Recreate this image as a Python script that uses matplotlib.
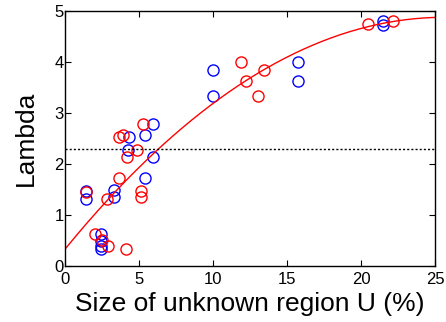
import numpy as np
import matplotlib
matplotlib.use("Agg")
import matplotlib.pyplot as plt

plt.rcParams['font.family'] = ['Liberation Sans', 'DejaVu Sans']

blue_x = [1.40, 1.40, 2.42, 2.42, 2.42, 2.42, 3.33, 3.33, 4.30, 4.23, 5.41, 5.93, 5.93, 5.41,
          9.98, 9.98, 15.73, 15.73, 21.49, 21.49]
blue_y = [1.47, 1.32, 0.63, 0.49, 0.40, 0.33, 1.49, 1.35, 2.52, 2.27, 2.56, 2.79, 2.13, 1.72,
          3.85, 3.33, 4.00, 3.62, 4.81, 4.73]

red_x = [1.40, 2.04, 2.47, 2.92, 4.12, 2.85, 3.64, 3.64, 3.94, 4.16, 4.84, 5.27, 5.14, 5.14,
         11.91, 12.25, 13.42, 13.06, 20.46, 22.14]
red_y = [1.45, 0.63, 0.51, 0.39, 0.33, 1.32, 1.72, 2.52, 2.56, 2.13, 2.27, 2.79, 1.48, 1.36,
         4.00, 3.62, 3.85, 3.33, 4.74, 4.81]

fit_coef = [-0.00693, 0.355, 0.33]   # quadratic fit curve
threshold = 2.29

xticks = [0, 5, 10, 15, 20, 25]
yticks = [0, 1, 2, 3, 4, 5]

fig = plt.figure(figsize=(4.46, 3.22), dpi=100)
ax = fig.add_axes([0.1457, 0.1739, 0.8296, 0.7919])

ax.plot(blue_x, blue_y, 'o', mfc='none', mec=(0, 0, 1), ms=8, mew=1.0, ls='none')
ax.plot(red_x, red_y, 'o', mfc='none', mec=(1, 0, 0), ms=8, mew=1.0, ls='none')
xc = np.linspace(0, 25, 200)
ax.plot(xc, np.polyval(fit_coef, xc), color=(1, 0, 0), lw=1.0)
ax.axhline(threshold, color='black', lw=1.0, ls=(0, (1.5, 1.5)))

ax.set_xlim(0, 25)
ax.set_ylim(0, 5)
ax.set_xticks(xticks)
ax.set_yticks(yticks)
ax.tick_params(direction='in', top=True, right=True, labelsize=12, length=4, width=0.8)
ax.tick_params(axis='x', pad=4)
ax.tick_params(axis='y', pad=0.8)
for s in ax.spines.values():
    s.set_linewidth(1.0)
ax.set_xlabel('Size of unknown region U (%)', fontsize=19, labelpad=4)
ax.set_ylabel('Lambda', fontsize=19, labelpad=12)

fig.savefig('out.png', dpi=100)
